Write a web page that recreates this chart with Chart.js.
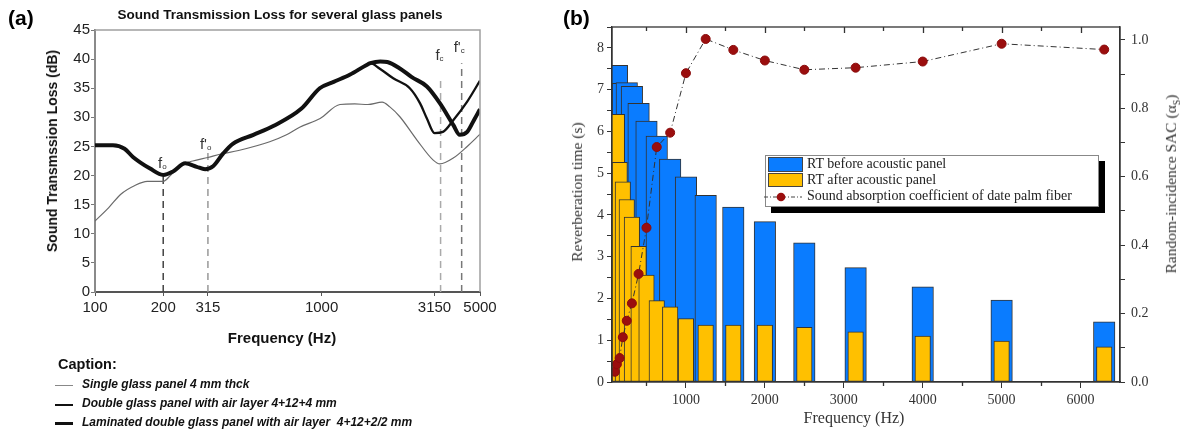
<!DOCTYPE html>
<html><head><meta charset="utf-8">
<script src="https://cdn.jsdelivr.net/npm/chart.js@4.4.0/dist/chart.umd.min.js"></script>
<style>
html,body{margin:0;padding:0;background:#fff;}
body{width:1183px;height:434px;position:relative;overflow:hidden;}
.abs{position:absolute;white-space:nowrap;}
.sans{font-family:"Liberation Sans",Arial,sans-serif;}
.serif{font-family:"Liberation Serif","Times New Roman",serif;}
.rot{transform:translate(-50%,-50%) rotate(-90deg);}
.ctr{transform:translate(-50%,-50%);}
canvas{position:absolute;}
</style></head><body>
<canvas id="ca" width="500" height="350" style="left:0;top:0"></canvas>
<canvas id="cb" width="623" height="434" style="left:560px;top:0"></canvas>

<div class="abs sans" style="left:8px;top:6px;font-size:21px;font-weight:bold;color:#000">(a)</div>
<div class="abs sans ctr" style="left:280px;top:14px;font-size:13.5px;font-weight:bold;color:#111">Sound Transmission Loss for several glass panels</div>
<div class="abs sans rot" style="left:52px;top:151px;font-size:14px;font-weight:bold;color:#111">Sound Transmssion Loss (dB)</div>
<div class="abs sans ctr" style="left:282px;top:337px;font-size:15px;font-weight:bold;color:#111">Frequency (Hz)</div>
<div class="abs sans" style="left:58px;top:356px;font-size:14.5px;font-weight:bold;color:#111">Caption:</div>
<div class="abs" style="left:55px;top:385px;width:18px;height:1px;background:#888"></div>
<div class="abs sans" style="left:82px;top:377px;font-size:12px;font-weight:bold;font-style:italic;color:#111">Single glass panel 4 mm thck</div>
<div class="abs" style="left:55px;top:404px;width:18px;height:2px;background:#111"></div>
<div class="abs sans" style="left:82px;top:396px;font-size:12px;font-weight:bold;font-style:italic;color:#111">Double glass panel with air layer 4+12+4 mm</div>
<div class="abs" style="left:55px;top:422px;width:18px;height:3px;background:#111"></div>
<div class="abs sans" style="left:82px;top:415px;font-size:12px;font-weight:bold;font-style:italic;color:#111">Laminated double glass panel with air layer&nbsp; 4+12+2/2 mm</div>

<div class="abs sans" style="left:563px;top:6px;font-size:21px;font-weight:bold;color:#000">(b)</div>
<div class="abs serif rot" style="left:577px;top:192px;font-size:15.5px;color:#333">Reverberation time (s)</div>
<div class="abs serif rot" style="left:1172px;top:184px;font-size:15.5px;color:#333">Random-incidence SAC (α<sub style="font-size:10px">S</sub>)</div>
<div class="abs serif ctr" style="left:854px;top:418px;font-size:16px;color:#333">Frequency (Hz)</div>

<div class="abs serif" style="left:765px;top:155px;width:332px;height:50px;border:1px solid #888;background:#fff;box-shadow:6px 6px 0 #000;font-size:14px;color:#222;">
  <div class="abs" style="left:2px;top:1px;width:33px;height:13px;background:#0a7cff;border:1px solid #444"></div>
  <div class="abs" style="left:41px;top:0px;line-height:16px">RT before acoustic panel</div>
  <div class="abs" style="left:2px;top:17px;width:33px;height:12px;background:#ffc000;border:1px solid #444"></div>
  <div class="abs" style="left:41px;top:16px;line-height:16px">RT after acoustic panel</div>
  <svg class="abs" style="left:-3px;top:35px" width="40" height="12"><line x1="1" y1="6" x2="39" y2="6" stroke="#444" stroke-width="1" stroke-dasharray="4,2,1,2"/><circle cx="18" cy="6" r="4.3" fill="#9b0e0e"/></svg>
  <div class="abs" style="left:41px;top:32px;line-height:16px">Sound absorption coefficient of date palm fiber</div>
</div>

<script>
// ---------- Panel (a) data ----------
const freqSingle = [100,115,130,150,170,190,200,215,240,270,315,360,430,590,700,800,985,1205,1400,1600,1850,2000,2215,2635,3100,3330,3810,4390,5000];
const tlSingle   = [12.2,14.5,16.8,18.3,19.0,19.0,19.0,20.0,21.8,22.5,23.1,23.7,24.3,25.8,27.0,28.3,29.8,32.2,32.3,32.2,32.6,31.8,30.1,26.1,22.7,22.0,23.0,25.0,27.1];
const freqDouble = [100,120,135,147,175,200,221,250,281,306,332,368,407,500,612,815,981,1130,1330,1580,1640,1800,2070,2450,2720,2915,3150,3430,3810,4390,5000];
const tlDouble   = [25.2,25.2,24.6,23.2,21.2,20.1,20.7,22.1,21.5,21.1,21.6,23.8,25.5,27.0,28.5,31.5,35.0,36.1,37.3,39.0,39.3,38.4,36.7,35.0,32.4,29.8,27.3,27.5,29.5,32.7,36.3];
const freqLaminated = [100,120,135,147,175,200,221,250,281,306,332,368,407,500,612,815,981,1130,1330,1580,1640,1815,1950,2215,2500,2915,3330,3810,4070,4390,4700,5000];
const tlLaminated   = [25.2,25.2,24.6,23.2,21.2,20.1,20.7,22.1,21.5,21.1,21.6,23.8,25.5,27.0,28.5,31.5,35.0,36.1,37.3,39.0,39.3,39.6,39.5,38.4,36.9,35.3,32.4,28.7,27.0,27.5,29.5,31.4];
const tickFreqsA = [100,200,315,1000,3150,5000];
const markFreqs  = [200,315,3350,4150];
const markTops   = [20,24,37,39.3];
const markColors = ['#444','#999','#aaa','#777'];
const markMain   = ['f',"f'",'f',"f'"];
const markSub    = ['o','o','c','c'];
const markLabelY = [22.2,25.5,40.7,42.1];

// ---------- Panel (b) data ----------
const bandsB   = [100,125,160,200,250,315,400,500,630,800,1000,1250,1600,2000,2500,3150,4000,5000,6300];
const rtBefore = [7.40,7.58,7.10,7.15,7.17,7.08,6.67,6.25,5.89,5.34,4.91,4.47,4.19,3.84,3.33,2.74,2.28,1.96,1.44];
const rtAfter  = [6.30,6.41,5.26,4.79,4.37,3.95,3.25,2.56,1.95,1.80,1.52,1.36,1.36,1.36,1.31,1.20,1.10,0.98,0.84];
const sacDate  = [0.030,0.052,0.070,0.131,0.179,0.230,0.316,0.451,0.687,0.729,0.903,1.003,0.971,0.940,0.913,0.919,0.937,0.989,0.972];
const freqTicksB = [1000,2000,3000,4000,5000,6000];

const pts = (xs, ys) => xs.map((x,i)=>({x:x, y:ys[i]}));

// ---------- Chart (a) ----------
const decorA = {
  id:'decorA',
  afterDatasetsDraw(chart){
    const {ctx, chartArea:a, scales:{x,y}} = chart;
    ctx.save();
    ctx.strokeStyle='#a0a0a0'; ctx.lineWidth=1.5;
    ctx.beginPath(); ctx.moveTo(a.left,a.top); ctx.lineTo(a.right,a.top); ctx.lineTo(a.right,a.bottom); ctx.stroke();
    ctx.fillStyle='#333'; ctx.textBaseline='alphabetic';
    markFreqs.forEach((f,i)=>{
      const px = x.getPixelForValue(f) - 2, py = y.getPixelForValue(markLabelY[i]) + 5;
      ctx.font='15px "Liberation Sans", Arial, sans-serif';
      ctx.textAlign='right';
      ctx.fillText(markMain[i], px+1, py);
      ctx.font='8px "Liberation Sans", Arial, sans-serif';
      ctx.textAlign='left';
      ctx.fillText(markSub[i], px+1, py+1);
    });
    ctx.restore();
  }
};
const markSets = markFreqs.map((f,i)=>({
  data:[{x:f,y:0},{x:f,y:markTops[i]}],
  borderColor:markColors[i], borderWidth:1.5, borderDash:[7,5], pointRadius:0, order:5
}));
new Chart(document.getElementById('ca'), {
  type:'line',
  data:{datasets:[
    ...markSets,
    {label:'Single glass panel 4 mm thck', data:pts(freqSingle,tlSingle), borderColor:'#6a6a6a', borderWidth:1.2, pointRadius:0, cubicInterpolationMode:'monotone', order:3},
    {label:'Double glass panel with air layer 4+12+4 mm', data:pts(freqDouble,tlDouble), borderColor:'#111', borderWidth:2.3, pointRadius:0, cubicInterpolationMode:'monotone', order:2},
    {label:'Laminated double glass panel with air layer 4+12+2/2 mm', data:pts(freqLaminated,tlLaminated), borderColor:'#111', borderWidth:4, pointRadius:0, cubicInterpolationMode:'monotone', order:1}
  ]},
  options:{
    responsive:false, animation:false, events:[],
    layout:{padding:{top:30,right:20,left:0,bottom:0}},
    plugins:{legend:{display:false}, tooltip:{enabled:false}},
    scales:{
      x:{type:'logarithmic', min:100, max:5000,
         afterBuildTicks:s=>{s.ticks = tickFreqsA.map(v=>({value:v}));},
         afterFit:s=>{s.height=58;},
         grid:{display:true, drawOnChartArea:false, drawTicks:true, tickLength:4, color:'#555'},
         border:{display:true, color:'#555', width:2},
         ticks:{autoSkip:false, maxRotation:0, padding:3, color:'#222', font:{family:'"Liberation Sans", Arial, sans-serif', size:15}, callback:v=>String(v)}},
      y:{type:'linear', min:0, max:45,
         afterFit:s=>{s.width=95;},
         grid:{display:true, drawOnChartArea:false, drawTicks:true, tickLength:4, color:'#777'},
         border:{display:true, color:'#8a8a8a', width:2},
         ticks:{stepSize:5, padding:1, color:'#222', font:{family:'"Liberation Sans", Arial, sans-serif', size:15}}}
    }
  },
  plugins:[decorA]
});

// ---------- Chart (b) ----------
const decorB = {
  id:'decorB',
  afterDatasetsDraw(chart){
    const {ctx, chartArea:a, scales:{x}} = chart;
    ctx.save();
    ctx.strokeStyle='#333'; ctx.lineWidth=1.3;
    ctx.strokeRect(a.left, a.top, a.right-a.left, a.bottom-a.top);
    ctx.beginPath();
    for(let v=500; v<6500; v+=500){
      const px = Math.round(x.getPixelForValue(v))+0.5;
      ctx.moveTo(px, a.top); ctx.lineTo(px, a.top + (v%1000===0?6:4));
      if(v%1000!==0){ ctx.moveTo(px, a.bottom); ctx.lineTo(px, a.bottom + 4); }
    }
    ctx.stroke();
    ctx.restore();
  }
};
const serifFont = {family:'"Liberation Serif", "Times New Roman", serif', size:14};
new Chart(document.getElementById('cb'), {
  type:'bar',
  data:{datasets:[
    {type:'line', label:'Sound absorption coefficient of date palm fiber', data:pts(bandsB,sacDate), yAxisID:'y2',
     borderColor:'#333', borderWidth:1, borderDash:[6,3,1,3], pointRadius:4.5, pointBackgroundColor:'#9b0e0e', pointBorderColor:'#8a0c0c', pointBorderWidth:1, tension:0, order:0},
    {label:'RT after acoustic panel', data:pts(bandsB,rtAfter), yAxisID:'y', backgroundColor:'#ffc000', borderColor:'#333', borderWidth:1, borderSkipped:false, barThickness:15.5, grouped:false, order:1},
    {label:'RT before acoustic panel', data:pts(bandsB,rtBefore), yAxisID:'y', backgroundColor:'#0a7cff', borderColor:'#333', borderWidth:1, borderSkipped:false, barThickness:21.5, grouped:false, order:2}
  ]},
  options:{
    responsive:false, animation:false, events:[],
    layout:{padding:{top:27,right:0,left:0,bottom:0}},
    plugins:{legend:{display:false}, tooltip:{enabled:false}},
    scales:{
      x:{type:'linear', min:63, max:6500, offset:false,
         afterBuildTicks:s=>{s.ticks = freqTicksB.map(v=>({value:v}));},
         afterFit:s=>{s.height=52;},
         grid:{display:true, drawOnChartArea:false, drawTicks:true, tickLength:6, color:'#333', offset:false},
         border:{display:true, color:'#333', width:1.3},
         ticks:{autoSkip:false, maxRotation:0, minRotation:0, padding:4, color:'#333', font:serifFont,
                callback:v=>String(v)}},
      y:{type:'linear', position:'left', min:0, max:8.5,
         afterFit:s=>{s.width=52;},
         grid:{display:true, drawOnChartArea:false, drawTicks:true, tickLength:5, color:'#333'},
         border:{display:true, color:'#333', width:1.3},
         ticks:{stepSize:0.5, includeBounds:false, padding:3, color:'#333', font:serifFont,
                callback:v=> (Number.isInteger(v) ? String(v) : '')}},
      y2:{type:'linear', position:'right', min:0, max:1.038,
         afterFit:s=>{s.width=63;},
         grid:{display:true, drawOnChartArea:false, drawTicks:true, tickLength:5, color:'#333'},
         border:{display:true, color:'#333', width:1.3},
         ticks:{stepSize:0.1, includeBounds:false, padding:6, color:'#333', font:serifFont,
                callback:v=> (Math.round(v*10)%2===0 ? v.toFixed(1) : '')}}
    }
  },
  plugins:[decorB]
});
</script>
</body></html>
